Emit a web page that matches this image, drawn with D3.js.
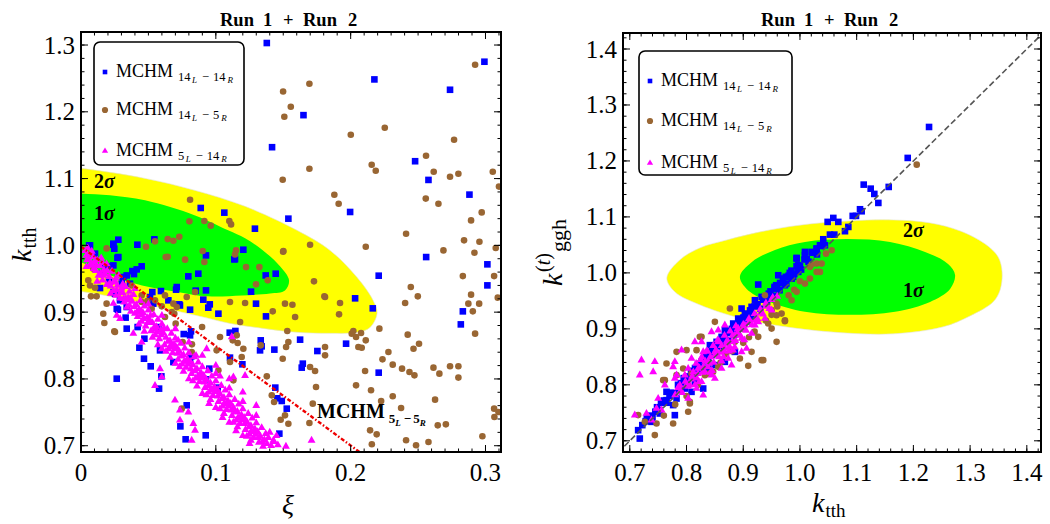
<!DOCTYPE html>
<html><head><meta charset="utf-8">
<script src="https://cdn.jsdelivr.net/npm/d3@7"></script>
<style>
body{margin:0;background:#fff;}
svg{display:block;font-family:"Liberation Serif","Times New Roman",serif;}
text{font-family:"Liberation Serif","Times New Roman",serif;fill:#000;}
</style>
</head><body>
<svg id="chart" width="1050" height="524"></svg>
<script>
// ---------------- DATA ----------------
const titleWords = ["Run", "1", "+", "Run", "2"];
const seriesNames = ["MCHM", "MCHM", "MCHM"];
const seriesSubs = [["14","L","14","R"],["14","L","5","R"],["5","L","14","R"]];

const leftXTicks = [0, 0.1, 0.2, 0.3];
const leftXLabels = ["0", "0.1", "0.2", "0.3"];
const leftYTicks = [0.7, 0.8, 0.9, 1.0, 1.1, 1.2, 1.3];
const leftYLabels = ["0.7", "0.8", "0.9", "1.0", "1.1", "1.2", "1.3"];
const rightXTicks = [0.7, 0.8, 0.9, 1.0, 1.1, 1.2, 1.3, 1.4];
const rightXLabels = ["0.7", "0.8", "0.9", "1.0", "1.1", "1.2", "1.3", "1.4"];
const rightYTicks = [0.7, 0.8, 0.9, 1.0, 1.1, 1.2, 1.3, 1.4];
const rightYLabels = ["0.7", "0.8", "0.9", "1.0", "1.1", "1.2", "1.3", "1.4"];

// 2 sigma / 1 sigma regions
const leftYellow = [[-0.02,1.118],[0,1.1153],[0.0475,1.1003],[0.0846,1.0823],[0.1217,1.0584],[0.1602,1.0225],[0.1847,0.9925],[0.2047,0.9521],[0.2166,0.9177],[0.2196,0.8982],[0.2144,0.8772],[0.2047,0.8698],[0.1847,0.8683],[0.1602,0.8698],[0.1350,0.8757],[0.1105,0.8832],[0.0883,0.8937],[0.0586,0.9072],[0.0289,0.9207],[0,0.9311],[-0.02,0.935]];
const leftGreen = [[-0.02,1.08],[0,1.0778],[0.0215,1.0749],[0.0475,1.0674],[0.0846,1.0449],[0.1091,1.0225],[0.1217,1.0105],[0.1350,0.9925],[0.1476,0.9686],[0.1543,0.9476],[0.1513,0.9326],[0.1402,0.9281],[0.1194,0.9251],[0.0942,0.9237],[0.0697,0.9311],[0.0453,0.9401],[0.0215,0.9551],[0,0.9746],[-0.02,0.985]];
const rightYellow = [[0.7653,0.9911],[0.7882,1.0232],[0.8235,1.0446],[0.8712,1.0589],[0.9470,1.0768],[1.0176,1.0875],[1.0882,1.0929],[1.1641,1.0946],[1.2294,1.0893],[1.2823,1.0750],[1.3264,1.0518],[1.3494,1.0286],[1.3564,1.0018],[1.3529,0.9696],[1.3405,0.9482],[1.3000,0.9232],[1.2523,0.9036],[1.1641,0.8911],[1.0759,0.8929],[0.9876,0.9018],[0.8994,0.9179],[0.8235,0.9429],[0.7794,0.9661]];
const rightGreen = [[0.8941,0.9929],[0.9153,1.0196],[0.9559,1.0411],[1.0088,1.0554],[1.0829,1.0607],[1.1588,1.0554],[1.2206,1.0375],[1.2611,1.0161],[1.2735,0.9964],[1.2647,0.9714],[1.2294,0.9482],[1.1676,0.9304],[1.0882,0.9250],[1.0088,0.9304],[0.9470,0.9482],[0.9118,0.9661]];

const redLine = [[0, 0.998], [0.215, 0.678]];
const diagLine = [[0.6, 0.6], [1.5, 1.5]];

const leftBlue = [[0.1378,1.303],[0.165,1.195],[0.1417,1.147],[0.2176,1.2485],[0.2737,1.233],[0.2992,1.275],[0.2478,1.126],[0.2577,1.098],[0.2881,1.076],[0.1996,1.050],[0.1538,1.040],[0.129,1.025],[0.1063,1.049],[0.0888,1.056],[0.1204,0.9935],[0.0544,1.009],[0.0418,1.001],[0.0277,1.0085],[0.024,1.001],[0.006,1.0],[0.256,0.9825],[0.0927,0.985],[0.1142,0.9795],[0.027,0.9815],
[0.1137,0.979],[0.1444,0.9576],[0.0796,0.9536],[0.087,0.9576],[0.0851,0.9322],[0.0927,0.9326],[0.0705,0.9337],[0.1261,0.9307],[0.0907,0.9187],[0.0955,0.9117],[0.0944,0.9067],[0.1019,0.8977],[0.1298,0.9127],[0.1372,0.8937],[0.2208,0.9546],[0.2033,0.9207],[0.2164,0.9057],[0.0729,0.9117],[0.0809,0.9037],[0.1103,0.8693],[0.1145,0.8718],[0.0762,0.8672],[0.0816,0.8713],[0.1333,0.8578],[0.1625,0.8588],[0.1753,0.8418],[0.1966,0.8528],[0.0247,0.995],[0.0339,0.955],[0.0277,0.9825],[0.045,0.9686],[0.0381,0.9615],[0.0393,0.957],[0.0413,0.964],[0.0529,0.9301],[0.0593,0.9316],[0.0648,0.9177],[0.071,0.9376],[0.0512,0.9226],
[0.3014,0.9716],[0.3014,0.9401],[0.2832,0.9012],[0.2817,0.8817],[0.2208,0.8094],[0.1645,0.8229],[0.1637,0.8169],[0.1434,0.8439],[0.134,0.8488],[0.1328,0.8428],[0.1441,0.787],[0.1456,0.771],[0.1489,0.767],[0.1526,0.7555],[0.1471,0.7181],[0.137,0.955],[0.1197,0.8219],[0.1105,0.8319],[0.1014,0.787],[0.0952,0.8154],[0.0883,0.8043],[0.0927,0.7994],[0.0818,0.8338],[0.0809,0.8278],[0.0685,0.8253],[0.0586,0.8428],[0.0809,0.8653],[0.0574,0.8777],[0.047,0.8603],[0.0433,0.8468],[0.0467,0.8303],[0.0517,0.8189],[0.0596,0.8039],[0.0579,0.7855],[0.0784,0.7605],[0.0737,0.729],[0.0776,0.7096],[0.0925,0.7156],[0.0265,0.8004],[0.0339,0.8753],[0.0331,0.8918],[0.042,0.8777],[0.0536,0.9127],[0.019,0.9686],[0.0153,0.9576],[0.0208,0.9476],[0.024,0.9301],[0.0274,0.9037],[0.0141,0.9361],
[0.0067,1.0],[0.0104,0.9876],[0.024,1.0025],[0.0178,0.970],[0.024,0.970],[0.0314,0.9526],[0.0363,0.9426],[0.0302,0.945],[0.0252,0.9277],[0.0289,0.9177],[0.0339,0.9077],[0.0265,0.9052],[0.05,0.9152],[0.0734,0.910]];

const leftBrown = [[0.2923,1.2705],[0.1694,1.242],[0.1499,1.2305],[0.1556,1.2076],[0.1508,1.1927],[0.2253,1.1762],[0.2001,1.1657],[0.2767,1.1582],[0.2559,1.1343],[0.1694,1.1148],[0.2156,1.1208],[0.2186,1.1118],[0.2616,1.1103],[0.2799,1.1073],[0.2737,1.1028],[0.3054,1.1103],[0.31,1.088],[0.1496,1.0983],[0.1879,1.0759],[0.1911,1.0624],[0.2557,1.07],[0.2651,1.0624],[0.2972,1.0494],[0.2893,1.0374],[0.2411,1.0175],[0.2112,0.998],[0.2841,1.0075],[0.2955,1.0055],[0.3076,0.996],[0.2688,0.9925],[0.2918,0.989],[0.1699,1.001],[0.1499,0.9905],[0.0809,1.0684],[0.0804,1.036],[0.0915,1.0364],[0.0962,1.0295],[0.11,1.0364],[0.1113,1.0314],[0.0729,1.013],[0.0643,1.0094],[0.0685,1.007],[0.0549,1.006],[0.0482,0.998],[0.019,0.9955],[0.0903,0.9915],[0.115,0.9925],[0.1142,0.9865],[0.0643,0.983],
[0.0628,0.9825],[0.0772,0.9786],[0.0915,0.975],[0.1224,0.9675],[0.1323,0.9675],[0.1385,0.9476],[0.1501,0.9915],[0.1728,0.9461],[0.1805,0.9237],[0.1921,0.9137],[0.1513,0.9127],[0.1568,0.9112],[0.1588,0.8927],[0.153,0.8718],[0.1422,0.9012],[0.1105,0.9152],[0.1217,0.9137],[0.1298,0.9416],[0.0846,0.9301],[0.0784,0.9226],[0.071,0.9076],[0.0549,0.9177],[0.0524,0.9052],[0.045,0.9152],[0.0599,0.9087],[0.0673,0.9002],[0.0623,0.8927],[0.019,0.9127],[0.0173,0.8837],[0.0247,0.8713],[0.0074,0.9237],[0.0067,0.94],[0.0091,0.9651],[0.2008,0.8678],[0.204,0.8628],[0.2057,0.8478],[0.2213,0.8753],[0.1521,0.8478],[0.1333,0.8503],[0.1538,0.8553],
[0.2832,0.954],[0.3064,0.954],[0.3091,0.9217],[0.2893,0.9262],[0.2873,0.9127],[0.2906,0.9012],[0.2923,0.8678],[0.2446,0.9376],[0.2498,0.9237],[0.2404,0.9137],[0.2423,0.8663],[0.2466,0.8453],[0.2381,0.8154],[0.2436,0.8104],[0.2473,0.8054],[0.2507,0.8528],[0.228,0.8403],[0.2236,0.8293],[0.2312,0.8214],[0.2112,0.8578],[0.2077,0.8688],[0.2082,0.8468],[0.2107,0.8119],[0.2151,0.783],[0.204,0.7904],[0.2226,0.767],[0.2312,0.774],[0.2144,0.723],[0.2193,0.717],[0.2157,0.7021],[0.2411,0.7081],[0.2485,0.7006],[0.2374,0.7565],[0.2626,0.769],[0.2577,0.7056],[0.2646,0.7305],[0.2706,0.732],[0.2614,0.8169],[0.2658,0.8079],[0.2737,0.8189],[0.2799,0.8189],[0.2799,0.802],[0.2977,0.7141],[0.3066,0.743],[0.3064,0.7555],[0.3096,0.7505],[0.2953,0.9127],[0.1914,0.8967],[0.202,0.8718],[0.181,0.9226],[0.181,0.8478],[0.181,0.8353],[0.1736,0.8119],[0.1699,0.8179],[0.1743,0.7879],[0.1719,0.763],[0.1694,0.734],[0.1496,0.8303],[0.1378,0.8039],[0.1415,0.7754],[0.1432,0.7655],[0.1481,0.739],[0.1513,0.7455],[0.1538,0.733],[0.118,0.8852],[0.1155,0.8653],[0.1162,0.8538],[0.1125,0.8578],[0.1204,0.8453],[0.1192,0.8328],[0.113,0.7979],[0.1105,0.8253],[0.1006,0.8428],[0.1031,0.8628],[0.1019,0.8129],[0.0898,0.8777],[0.0823,0.8518],[0.0754,0.8553],[0.0702,0.8828],[0.0692,0.8977],[0.0685,0.9127],[0.0821,0.8403],[0.0747,0.7555],[0.0252,0.8703],[0.0165,0.8977],[0.0116,0.9237],[0.0054,0.9476],[0.0104,0.9366],[0.0376,0.94],[0.045,0.9251],[0.0492,0.9166],[0.0623,0.9251]];

const leftMagenta = [[0.003,0.992],[0.004,0.985],[0.005,0.996],[0.006,0.979],[0.007,0.988],[0.008,0.972],[0.009,0.983],[0.010,0.975],[0.004,0.968],[0.008,0.991],
[0.011,0.962],[0.012,0.978],[0.013,0.955],[0.014,0.969],[0.015,0.981],[0.016,0.948],[0.017,0.963],[0.018,0.957],[0.019,0.972],[0.012,0.946],[0.016,0.974],[0.019,0.941],
[0.021,0.953],[0.022,0.939],[0.023,0.961],[0.024,0.932],[0.025,0.947],[0.026,0.925],[0.027,0.940],[0.028,0.955],[0.029,0.921],[0.030,0.936],[0.022,0.928],[0.026,0.951],[0.024,0.913],
[0.031,0.929],[0.032,0.915],[0.033,0.938],[0.034,0.907],[0.035,0.922],[0.036,0.931],[0.037,0.901],[0.038,0.916],[0.039,0.926],[0.040,0.898],[0.033,0.921],[0.036,0.910],[0.031,0.942],
[0.041,0.911],[0.042,0.893],[0.043,0.904],[0.044,0.917],[0.045,0.886],[0.046,0.899],[0.047,0.909],[0.048,0.879],[0.049,0.892],[0.050,0.903],[0.043,0.882],[0.047,0.871],[0.045,0.896],
[0.051,0.888],[0.052,0.872],[0.053,0.884],[0.054,0.896],[0.055,0.866],[0.056,0.878],[0.057,0.889],[0.058,0.860],[0.059,0.873],[0.060,0.882],[0.053,0.862],[0.057,0.851],[0.055,0.874],
[0.061,0.869],[0.062,0.851],[0.063,0.862],[0.064,0.875],[0.065,0.845],[0.066,0.857],[0.067,0.868],[0.068,0.839],[0.069,0.852],[0.070,0.861],[0.063,0.841],[0.066,0.832],[0.068,0.848],
[0.071,0.847],[0.072,0.829],[0.073,0.841],[0.074,0.853],[0.075,0.822],[0.076,0.836],[0.077,0.846],[0.078,0.817],[0.079,0.830],[0.080,0.839],[0.073,0.818],[0.076,0.811],[0.078,0.826],[0.072,0.858],
[0.081,0.826],[0.082,0.808],[0.083,0.821],[0.084,0.833],[0.085,0.801],[0.086,0.815],[0.087,0.825],[0.088,0.796],[0.089,0.809],[0.090,0.818],[0.083,0.797],[0.086,0.789],[0.088,0.806],
[0.091,0.805],[0.092,0.787],[0.093,0.799],[0.094,0.812],[0.095,0.780],[0.096,0.794],[0.097,0.804],[0.098,0.775],[0.099,0.788],[0.100,0.797],[0.093,0.776],[0.096,0.769],[0.098,0.784],
[0.101,0.784],[0.102,0.766],[0.103,0.778],[0.104,0.790],[0.105,0.759],[0.106,0.772],[0.107,0.783],[0.108,0.754],[0.109,0.767],[0.110,0.776],[0.103,0.755],[0.106,0.748],[0.108,0.762],
[0.111,0.763],[0.112,0.745],[0.113,0.757],[0.114,0.769],[0.115,0.738],[0.116,0.751],[0.117,0.762],[0.118,0.733],[0.119,0.746],[0.120,0.755],[0.113,0.735],[0.116,0.728],[0.118,0.741],
[0.121,0.742],[0.122,0.724],[0.123,0.736],[0.124,0.748],[0.125,0.717],[0.126,0.730],[0.127,0.741],[0.128,0.712],[0.129,0.725],[0.130,0.734],[0.123,0.714],[0.126,0.708],[0.128,0.721],
[0.131,0.721],[0.132,0.705],[0.133,0.714],[0.134,0.727],[0.135,0.699],[0.136,0.709],[0.137,0.718],[0.138,0.703],[0.139,0.712],[0.141,0.700],[0.143,0.706],[0.146,0.701],
[0.0045,0.978],[0.0095,0.965],[0.0145,0.958],[0.0195,0.962],[0.0245,0.945],[0.0295,0.929],[0.0345,0.918],[0.0395,0.908],[0.0445,0.902],[0.0495,0.884],[0.0545,0.878],[0.0595,0.866],[0.0645,0.856],[0.0695,0.845],[0.0745,0.834],[0.0795,0.822],[0.0845,0.812],[0.0895,0.801],[0.0945,0.79],[0.0995,0.781],[0.1045,0.77],[0.1095,0.759],[0.1145,0.75],[0.1195,0.738],[0.1245,0.728],[0.1295,0.717],[0.1345,0.706],
[0.0065,0.97],[0.0115,0.97],[0.0165,0.955],[0.0215,0.944],[0.0265,0.933],[0.0315,0.92],[0.0365,0.921],[0.0415,0.9],[0.0465,0.89],[0.0515,0.895],[0.0565,0.87],[0.0615,0.876],[0.0665,0.85],[0.0715,0.838],[0.0765,0.826],[0.0815,0.815],[0.0865,0.803],[0.0915,0.795],[0.0965,0.785],[0.1015,0.774],[0.1065,0.764],[0.1115,0.753],[0.1165,0.742],[0.1215,0.733],[0.1265,0.722],[0.1315,0.712],
[0.095,0.763],[0.105,0.742],[0.115,0.722],[0.125,0.703],[0.1,0.808],[0.11,0.786],[0.12,0.766],[0.13,0.745],[0.14,0.72],[0.145,0.715],
[0.04,0.935],[0.05,0.912],[0.06,0.895],[0.07,0.875],[0.08,0.855],[0.09,0.835],[0.1,0.82],[0.11,0.8],[0.12,0.78],[0.13,0.76],
[0.06,0.845],[0.07,0.823],[0.08,0.8],[0.09,0.778],[0.1,0.757],[0.11,0.735],[0.12,0.715],
[0.0388,0.868],[0.045,0.855],[0.0586,0.815],[0.0599,0.803],[0.0549,0.79],[0.0697,0.768],[0.0734,0.753],[0.0796,0.75],[0.0833,0.733],[0.0846,0.723],[0.0821,0.708],[0.0734,0.738],[0.0265,0.895],[0.029,0.89],[0.1118,0.863],[0.0932,0.845],[0.0853,0.835],[0.1217,0.805],[0.1427,0.708],[0.171,0.708],[0.152,0.699],[0.113,0.803],[0.1031,0.804]];

const rightBlue = [[0.7147,0.719],[0.7176,0.704],[0.7647,0.7875],[0.7647,0.7727],[0.7764,0.7638],[0.7824,0.7755],[0.7882,0.7934],[0.797,0.8054],[0.8088,0.8173],[0.8206,0.8262],[0.8265,0.8411],[0.8353,0.8559],[0.8441,0.853],[0.8412,0.8709],[0.853,0.8768],[0.8618,0.8857],[0.8676,0.8977],[0.8823,0.9095],[0.8911,0.9184],[0.8971,0.9363],[0.9029,0.9274],[0.9147,0.9393],[0.9206,0.9512],[0.9324,0.9571],[0.9264,0.9792],[0.944,0.9542],[0.9559,0.972],[0.9617,0.9958],[0.9735,0.978],[0.9853,0.9898],[0.9941,1.0255],[0.997,1.0018],[1.0088,1.0316],[1.0206,1.0375],[1.0294,1.0434],[1.0441,1.0494],[0.997,1.0137],[0.9147,0.9184],[0.8088,0.7875],[0.797,0.7934],[0.8294,0.7934],[0.8147,0.8054],[0.85,0.8352],[0.8676,0.8411],[0.8853,0.8589],[0.8382,0.8292],[0.7529,0.7488],[0.7382,0.7339],[0.7794,0.7458],
[1.2276,1.2607],[1.19,1.2054],[1.1124,1.1577],[1.1247,1.1505],[1.1311,1.1411],[1.1382,1.125],[1.1565,1.1536],[1.1059,1.1137],[1.1088,1.1101],[1.093,1.1018],[1.0988,1.1018],[1.0488,1.0911],[1.0588,1.0982],[1.0676,1.0911],[1.0529,1.0684],[1.0606,1.0684],[1.0411,1.0601],[1.0353,1.0494],[1.0294,1.0434],[1.0088,1.0375],[0.9941,1.0268],[1.0794,1.0745],[1.0853,1.0821],
[0.73,0.74],[0.745,0.752],[0.755,0.768],[0.77,0.78],[0.79,0.803],[0.805,0.815],[0.815,0.83],[0.825,0.838],[0.835,0.85],[0.845,0.862],[0.855,0.87],[0.865,0.881],[0.875,0.893],[0.885,0.9],[0.895,0.912],[0.905,0.925],[0.912,0.933],[0.925,0.944],[0.935,0.952],[0.945,0.963],[0.955,0.975],[0.965,0.982],[0.975,0.993],[0.985,1.004],[1.0,1.012],[1.012,1.025],[0.86,0.876],[0.88,0.9],[0.9,0.92],[0.92,0.94],[0.94,0.958],[0.96,0.972],[0.98,0.995],[0.99,0.998],
[0.722,0.728],[0.728,0.735],[0.735,0.745],[0.74,0.742],[0.748,0.76],[0.752,0.755],[0.76,0.772],[0.765,0.768],[0.772,0.786],[0.778,0.785],[0.785,0.8],[0.79,0.795],[0.795,0.812],[0.8,0.808],[0.808,0.825],[0.812,0.818],[0.82,0.836],[0.826,0.83],[0.832,0.848],[0.838,0.842],[0.843,0.858],[0.85,0.857],[0.856,0.874],[0.862,0.868],[0.868,0.886],[0.873,0.879],[0.879,0.897],[0.884,0.889],[0.89,0.908],[0.896,0.901],[0.902,0.92],[0.907,0.913],[0.913,0.931],[0.918,0.924],[0.924,0.943],[0.93,0.936],[0.936,0.955],[0.942,0.948],[0.948,0.967],[0.953,0.959],[0.958,0.978],[0.964,0.969],[0.97,0.99],[0.976,0.981],[0.982,1.0],[0.988,0.993],[0.994,1.012],[1.002,1.006],[1.008,1.024],[1.015,1.02],[1.022,1.036],[1.03,1.033],[1.038,1.048]];

const rightBrown = [[0.8765,0.9363],[0.85,0.9125],[0.8265,0.8857],[0.7824,0.8589],[0.7647,0.838],[0.8,0.862],[0.8177,0.862],[0.7618,0.8084],[0.8059,0.7666],[0.8029,0.7518],[0.7764,0.7309],[0.7471,0.7309],[0.7441,0.7102],[0.7147,0.7459],[0.9324,0.8441],[0.9147,0.8589],[0.9588,0.8768],[0.95,0.9005],[0.9735,0.9155],[0.9676,0.9273],[0.944,0.9095],[0.9264,0.8857],[0.9853,0.9512],[0.9941,0.9661],[1.0088,0.9809],[1.0176,0.9898],[1.0294,1.0166],[1.0382,1.0166],[1.0353,1.0018],[1.0176,1.0107],[0.9588,0.9452],[0.95,0.9334],[0.9382,0.9601],[0.9,0.9005],[0.8853,0.8768],[0.8941,0.847],[0.8559,0.8321],[0.847,0.8232],[0.8324,0.8173],[0.8088,0.8202],[0.7824,0.8173],[0.7941,0.8292],
[1.2059,1.1934],[1.0559,1.0405],[1.0459,1.0345],[1.0206,1.0149],[1.0294,1.0018],[0.9588,0.9244],[0.9735,0.9137],[0.9353,0.8441],[0.9088,0.8339],[0.8235,0.8857],[0.7588,0.8084],[0.8059,0.7696],[0.7265,0.7339],
[0.86,0.84],[0.88,0.86],[0.9,0.875],[0.92,0.895],[0.94,0.915],[0.96,0.94],[0.98,0.96],[1.0,0.985],[0.84,0.82],[0.82,0.8],[0.8,0.78],[0.78,0.765],[0.76,0.745],[0.87,0.855],[0.91,0.885],[0.95,0.925],[0.99,0.97]];

const rightMagenta = [[0.7206,0.8441],[0.7441,0.8411],[0.7176,0.8173],[0.7412,0.8232],[0.7088,0.7459],[0.7294,0.7488],[0.7471,0.7577],[0.75,0.7755],[0.7794,0.8411],[0.7764,0.8321],[0.7912,0.862],[0.8147,0.8768],[0.7824,0.8173],[0.797,0.8173],[0.8294,0.7816],[0.8059,0.7994],[0.8441,0.8946],[0.8559,0.8976],[0.8294,0.8589],[0.8676,0.8648],[0.8794,0.8352],[0.8971,0.8827],[0.9147,0.8916],[0.9206,0.9066],[0.9382,0.9184],[0.95,0.9334],[0.8618,0.8292],[0.8441,0.8173],[0.8265,0.8054],[0.8176,0.7934],[0.8029,0.7755],[0.7794,0.8113],[0.7882,0.7994],[0.7618,0.7994],[0.7559,0.7548],[0.7382,0.737],[0.85,0.8589],[0.8853,0.8887],[0.9059,0.8648],[0.9264,0.9125],[0.9029,0.9066],[0.8735,0.8768],[0.8382,0.8411],[0.8206,0.8292],[0.8088,0.847],[0.8265,0.8768],[0.8559,0.8768],[0.8912,0.9005],[0.8676,0.9066],[0.8029,0.8292],[0.8324,0.8232],[0.85,0.8113],[0.8735,0.847],[0.8971,0.8589],
[0.79,0.79],[0.8,0.8],[0.81,0.815],[0.82,0.82],[0.83,0.833],[0.84,0.838],[0.85,0.853],[0.86,0.858],[0.87,0.872],[0.88,0.877],[0.89,0.893],[0.9,0.9],[0.91,0.912],[0.92,0.915],[0.93,0.928],[0.94,0.94],[0.95,0.952],[0.96,0.958],[0.825,0.845],[0.845,0.825],[0.865,0.85],[0.885,0.867],[0.855,0.88],[0.835,0.86],[0.815,0.8],[0.875,0.86],
[0.78,0.782],[0.785,0.795],[0.792,0.786],[0.798,0.806],[0.803,0.797],[0.808,0.81],[0.812,0.823],[0.818,0.812],[0.823,0.83],[0.828,0.822],[0.833,0.842],[0.838,0.832],[0.842,0.85],[0.848,0.84],[0.852,0.862],[0.857,0.85],[0.862,0.87],[0.866,0.86],[0.871,0.878],[0.876,0.868],[0.881,0.888],[0.886,0.879],[0.89,0.9],[0.895,0.888],[0.9,0.908],[0.905,0.897],[0.91,0.918],[0.915,0.907],[0.92,0.927],[0.925,0.918],[0.93,0.935],[0.935,0.926],[0.94,0.946],[0.946,0.936],[0.952,0.956],[0.817,0.838],[0.827,0.85],[0.837,0.86],[0.847,0.87],[0.857,0.878],[0.867,0.888],[0.877,0.896],[0.887,0.905],[0.822,0.805],[0.842,0.822],[0.862,0.842],[0.882,0.862],[0.902,0.88]];

// ---------------- STYLE / LAYOUT ----------------
const COL = {blue:"#0000ff", brown:"#996633", magenta:"#ff00ff", yellow:"#ffff00", green:"#00ff00"};
const svg = d3.select("#chart");

function rich(parent, x, y, parts, anchor) {
  const t = parent.append("text").attr("x", x).attr("y", y).attr("text-anchor", anchor || "start");
  let cur = 0;
  parts.forEach(p => {
    const s = t.append("tspan").text(p.t).attr("font-size", p.s);
    const sh = p.dy || 0;
    s.attr("dy", sh - cur); cur = sh;
    if (p.dx) s.attr("dx", p.dx);
    if (p.i) s.attr("font-style", "italic");
    if (p.b) s.attr("font-weight", "bold");
  });
  return t;
}

function drawPanel(cfg) {
  const x = d3.scaleLinear().domain(cfg.xd).range([cfg.x0, cfg.x1]);
  const y = d3.scaleLinear().domain(cfg.yd).range([cfg.y1, cfg.y0]);
  const g = svg.append("g");
  const cid = "clip" + cfg.id;
  svg.append("clipPath").attr("id", cid).append("rect")
    .attr("x", cfg.x0).attr("y", cfg.y0).attr("width", cfg.x1 - cfg.x0).attr("height", cfg.y1 - cfg.y0);
  const pg = g.append("g").attr("clip-path", `url(#${cid})`);

  const area = d3.line().x(d => x(d[0])).y(d => y(d[1])).curve(d3.curveCatmullRomClosed.alpha(0.5));
  pg.append("path").attr("d", area(cfg.yellow)).attr("fill", COL.yellow).attr("stroke", "#e4e4d0").attr("stroke-width", 0.6);
  pg.append("path").attr("d", area(cfg.green)).attr("fill", COL.green);

  cfg.sigmaLabels.forEach(s => {
    rich(g, s.x, s.y, [{t: s.n, s: 20, b: true}, {t: "σ", s: 20, b: true, i: true}]);
  });

  const sq = 6.6;
  pg.append("g").selectAll("rect").data(cfg.blue).join("rect")
    .attr("x", d => x(d[0]) - sq/2).attr("y", d => y(d[1]) - sq/2)
    .attr("width", sq).attr("height", sq).attr("fill", COL.blue);
  pg.append("g").selectAll("circle").data(cfg.brown).join("circle")
    .attr("cx", d => x(d[0])).attr("cy", d => y(d[1])).attr("r", 3.3).attr("fill", COL.brown);
  const tri = d3.symbol().type(d3.symbolTriangle).size(27);
  pg.append("g").selectAll("path").data(cfg.magenta).join("path")
    .attr("transform", d => `translate(${x(d[0])},${y(d[1])})`).attr("d", tri).attr("fill", COL.magenta);

  const ln = d3.line().x(d => x(d[0])).y(d => y(d[1]));
  pg.append("path").attr("d", ln(cfg.line)).attr("fill", "none")
    .attr("stroke", cfg.lineColor).attr("stroke-width", cfg.lineWidth).attr("stroke-dasharray", cfg.lineDash);

  const fr = g.append("g");
  fr.append("rect").attr("x", cfg.x0).attr("y", cfg.y0).attr("width", cfg.x1 - cfg.x0).attr("height", cfg.y1 - cfg.y0)
    .attr("fill", "none").attr("stroke", "#000").attr("stroke-width", 2);
  const tk = (x1, y1, x2, y2) => fr.append("line").attr("x1", x1).attr("y1", y1).attr("x2", x2).attr("y2", y2)
    .attr("stroke", "#000").attr("stroke-width", 1);
  const xStart = Math.ceil(cfg.xd[0] / cfg.xMinor - 1e-6);
  for (let i = xStart; i * cfg.xMinor <= cfg.xd[1] + 1e-9; i++) {
    const px = x(i * cfg.xMinor);
    tk(px, cfg.y1, px, cfg.y1 - 3.5); tk(px, cfg.y0, px, cfg.y0 + 3.5);
  }
  const yStart = Math.ceil(cfg.yd[0] / cfg.yMinor - 1e-6);
  for (let i = yStart; i * cfg.yMinor <= cfg.yd[1] + 1e-9; i++) {
    const py = y(i * cfg.yMinor);
    tk(cfg.x0, py, cfg.x0 + 3.5, py); tk(cfg.x1, py, cfg.x1 - 3.5, py);
  }
  cfg.xt.forEach((v, i) => {
    const px = x(v);
    tk(px, cfg.y1, px, cfg.y1 - 7); tk(px, cfg.y0, px, cfg.y0 + 7);
    g.append("text").attr("x", px).attr("y", cfg.y1 + 29).attr("text-anchor", "middle").attr("font-size", 25).text(cfg.xl[i]);
  });
  cfg.yt.forEach((v, i) => {
    const py = y(v);
    tk(cfg.x0, py, cfg.x0 + 7, py); tk(cfg.x1, py, cfg.x1 - 7, py);
    g.append("text").attr("x", cfg.x0 - 6).attr("y", py + 8.5).attr("text-anchor", "end").attr("font-size", 25).text(cfg.yl[i]);
  });

  const cx = (cfg.x0 + cfg.x1) / 2;
  const offs = [-71, -28, -8, 12, 57];
  titleWords.forEach((w, i) => {
    g.append("text").attr("x", cx + offs[i]).attr("y", 25.5).attr("font-size", 18.5).attr("font-weight", "bold").text(w);
  });

  const L = cfg.legend;
  g.append("rect").attr("x", L.x).attr("y", L.y).attr("width", L.w).attr("height", L.h).attr("rx", 6)
    .attr("fill", "#fff").attr("stroke", "#000").attr("stroke-width", 1.6);
  const cols = [COL.blue, COL.brown, COL.magenta];
  L.rows.forEach((ry, i) => {
    const mx = L.mx, my = ry;
    if (i === 0) g.append("rect").attr("x", mx - 2.3).attr("y", my - 2.3).attr("width", 4.6).attr("height", 4.6).attr("fill", cols[0]);
    if (i === 1) g.append("circle").attr("cx", mx).attr("cy", my).attr("r", 3.1).attr("fill", cols[1]);
    if (i === 2) g.append("path").attr("transform", `translate(${mx},${my})`).attr("d", d3.symbol().type(d3.symbolTriangle).size(17)).attr("fill", cols[2]);
    const sb = seriesSubs[i];
    rich(g, L.tx, my + 5, [
      {t: seriesNames[i], s: 18},
      {t: sb[0], s: 12.5, dy: 4, dx: 5},
      {t: sb[1], s: 9, dy: 6, i: true, dx: 1.5},
      {t: "−", s: 12.5, dy: 4, dx: 5},
      {t: sb[2], s: 12.5, dy: 4, dx: 4},
      {t: sb[3], s: 9, dy: 6, i: true, dx: 2}
    ]);
  });
  return {x, y, g};
}

const P1 = drawPanel({
  id: 1, x0: 81, x1: 501, y0: 32, y1: 452, xd: [0, 0.3115], yd: [0.6906, 1.3195],
  xt: leftXTicks, xl: leftXLabels, yt: leftYTicks, yl: leftYLabels, xMinor: 0.01, yMinor: 0.02,
  yellow: leftYellow, green: leftGreen, blue: leftBlue, brown: leftBrown, magenta: leftMagenta,
  line: redLine, lineColor: "#ee0000", lineWidth: 2.4, lineDash: "4,2,1.5,2",
  sigmaLabels: [{n: "2", x: 94, y: 188}, {n: "1", x: 94, y: 220}],
  legend: {x: 94, y: 42, w: 150, h: 123, mx: 105, tx: 116, rows: [72, 110, 151]}
});
const P2 = drawPanel({
  id: 2, x0: 623, x1: 1041, y0: 33, y1: 452, xd: [0.688, 1.425], yd: [0.68, 1.4286],
  xt: rightXTicks, xl: rightXLabels, yt: rightYTicks, yl: rightYLabels, xMinor: 0.02, yMinor: 0.02,
  yellow: rightYellow, green: rightGreen, blue: rightBlue, brown: rightBrown, magenta: rightMagenta,
  line: diagLine, lineColor: "#555555", lineWidth: 1.6, lineDash: "6,3",
  sigmaLabels: [{n: "2", x: 903, y: 237}, {n: "1", x: 903, y: 297}],
  legend: {x: 639, y: 51, w: 153, h: 124, mx: 650, tx: 661, rows: [81, 121, 163]}
});

rich(P1.g, 317, 418, [
  {t: "MCHM", s: 20, b: true},
  {t: "5", s: 13, b: true, dy: 5, dx: 4},
  {t: "L", s: 9, b: true, i: true, dy: 8},
  {t: "−", s: 13, b: true, dy: 5, dx: 3},
  {t: "5", s: 13, b: true, dy: 5, dx: 2},
  {t: "R", s: 9, b: true, i: true, dy: 8}
]);

svg.append("text").attr("x", 288).attr("y", 514).attr("text-anchor", "middle")
  .attr("font-size", 28).attr("font-style", "italic").text("ξ");
rich(svg, 812, 512, [{t: "k", s: 28, i: true}, {t: "tth", s: 19, dy: 5, dx: 1}]);
const yl1 = svg.append("g").attr("transform", "translate(31,262) rotate(-90)");
rich(yl1, 0, 0, [{t: "k", s: 28, i: true}, {t: "tth", s: 20, dy: 5, dx: 1}]);
const yl2 = svg.append("g").attr("transform", "translate(562,286) rotate(-90)");
rich(yl2, 0, 0, [{t: "k", s: 28, i: true}]);
rich(yl2, 14, -12, [{t: "(", s: 20}, {t: "t", s: 20, i: true}, {t: ")", s: 20}]);
rich(yl2, 34, 4, [{t: "ggh", s: 22}]);
</script>
</body></html>
